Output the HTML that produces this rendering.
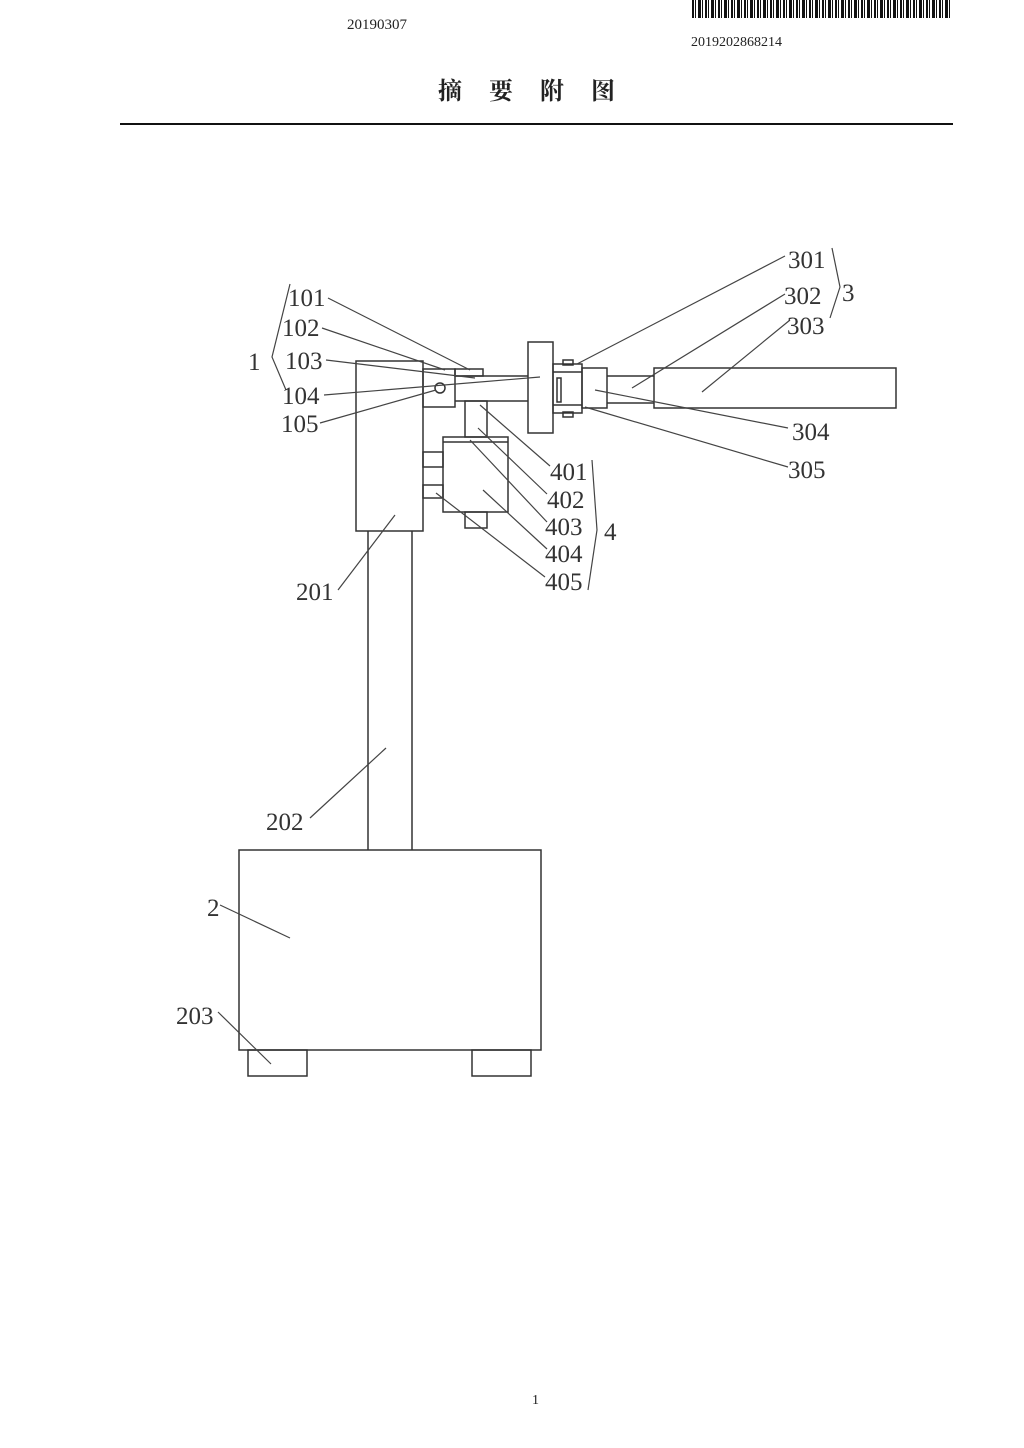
<!DOCTYPE html>
<html><head><meta charset="utf-8"><style>
html,body{margin:0;padding:0;background:#fff}
body{width:1024px;height:1448px;position:relative;overflow:hidden;font-family:"Liberation Serif","Noto Serif CJK SC",serif}
.t{position:absolute;color:#222}
.bc{position:absolute;left:692px;top:0;width:260px;height:18px;background:repeating-linear-gradient(90deg,#111 0 2px,#fff 2px 3px,#111 3px 4px,#fff 4px 6px,#111 6px 9px,#fff 9px 10px,#111 10px 11px,#fff 11px 13px)}
</style></head><body>
<div class="t" style="left:347px;top:17px;font-size:15px">20190307</div>
<div class="bc"></div>
<div class="t" style="left:691px;top:35px;font-size:14px">2019202868214</div>
<div class="t" style="left:438px;top:71px;font-size:24px;font-weight:bold;letter-spacing:27px;font-family:'Noto Serif CJK SC','Noto Sans CJK SC',serif">摘要附图</div>
<div style="position:absolute;left:120px;top:123px;width:833px;height:2px;background:#111"></div>
<div class="t" style="left:532px;top:1393px;font-size:14px">1</div>
<svg width="1024" height="1448" style="position:absolute;left:0;top:0" xmlns="http://www.w3.org/2000/svg">
<g fill="none" stroke="#333" stroke-width="1.5">
<rect x="356" y="361" width="67" height="170"/>
<line x1="368" y1="531" x2="368" y2="850"/><line x1="412" y1="531" x2="412" y2="850"/>
<rect x="239" y="850" width="302" height="200"/>
<rect x="248" y="1050" width="59" height="26"/>
<rect x="472" y="1050" width="59" height="26"/>
<rect x="423" y="369" width="32" height="38"/>
<rect x="455" y="369" width="28" height="7"/>
<circle cx="440" cy="388" r="5"/>
<line x1="455" y1="376" x2="528" y2="376"/><line x1="455" y1="401" x2="528" y2="401"/>
<rect x="528" y="342" width="25" height="91"/>
<rect x="553" y="364" width="29" height="49"/>
<line x1="553" y1="372" x2="582" y2="372"/><line x1="553" y1="405" x2="582" y2="405"/>
<rect x="557" y="378" width="4" height="24"/>
<rect x="563" y="360" width="10" height="5"/><rect x="563" y="412" width="10" height="5"/>
<rect x="582" y="368" width="25" height="40"/>
<line x1="607" y1="376" x2="654" y2="376"/><line x1="607" y1="403" x2="654" y2="403"/>
<rect x="654" y="368" width="242" height="40"/>
<rect x="465" y="401" width="22" height="36"/>
<rect x="443" y="437" width="65" height="75"/>
<line x1="443" y1="442" x2="508" y2="442"/>
<rect x="465" y="512" width="22" height="16"/>
<rect x="423" y="452" width="20" height="15"/>
<rect x="423" y="485" width="20" height="13"/>
</g>
<g stroke="#444" stroke-width="1.2" fill="none">
<line x1="328" y1="298" x2="470" y2="370"/>
<line x1="322" y1="328" x2="445" y2="370"/>
<line x1="326" y1="360" x2="475" y2="378"/>
<line x1="324" y1="395" x2="540" y2="377"/>
<line x1="320" y1="423" x2="436" y2="390"/>
<line x1="785" y1="256" x2="577" y2="364"/>
<line x1="785" y1="294" x2="632" y2="388"/>
<line x1="790" y1="320" x2="702" y2="392"/>
<line x1="788" y1="428" x2="595" y2="390"/>
<line x1="788" y1="467" x2="585" y2="407"/>
<line x1="550" y1="466" x2="480" y2="405"/>
<line x1="547" y1="494" x2="478" y2="428"/>
<line x1="547" y1="522" x2="470" y2="440"/>
<line x1="547" y1="549" x2="483" y2="490"/>
<line x1="545" y1="577" x2="436" y2="493"/>
<line x1="338" y1="590" x2="395" y2="515"/>
<line x1="310" y1="818" x2="386" y2="748"/>
<line x1="220" y1="905" x2="290" y2="938"/>
<line x1="218" y1="1012" x2="271" y2="1064"/>
<path d="M290 284 L272 357 L286 390"/>
<path d="M832 248 L840 287 L830 318"/>
<path d="M592 460 L597 530 L588 590"/>
</g>
<g font-family="Liberation Serif,serif" font-size="25" fill="#333">
<text x="288" y="306">101</text>
<text x="282" y="336">102</text>
<text x="285" y="369">103</text>
<text x="282" y="404">104</text>
<text x="281" y="432">105</text>
<text x="248" y="370">1</text>
<text x="788" y="268">301</text>
<text x="784" y="304">302</text>
<text x="787" y="334">303</text>
<text x="842" y="301">3</text>
<text x="792" y="440">304</text>
<text x="788" y="478">305</text>
<text x="550" y="480">401</text>
<text x="547" y="508">402</text>
<text x="545" y="535">403</text>
<text x="545" y="562">404</text>
<text x="545" y="590">405</text>
<text x="604" y="540">4</text>
<text x="296" y="600">201</text>
<text x="266" y="830">202</text>
<text x="207" y="916">2</text>
<text x="176" y="1024">203</text>
</g>
</svg>
</body></html>
